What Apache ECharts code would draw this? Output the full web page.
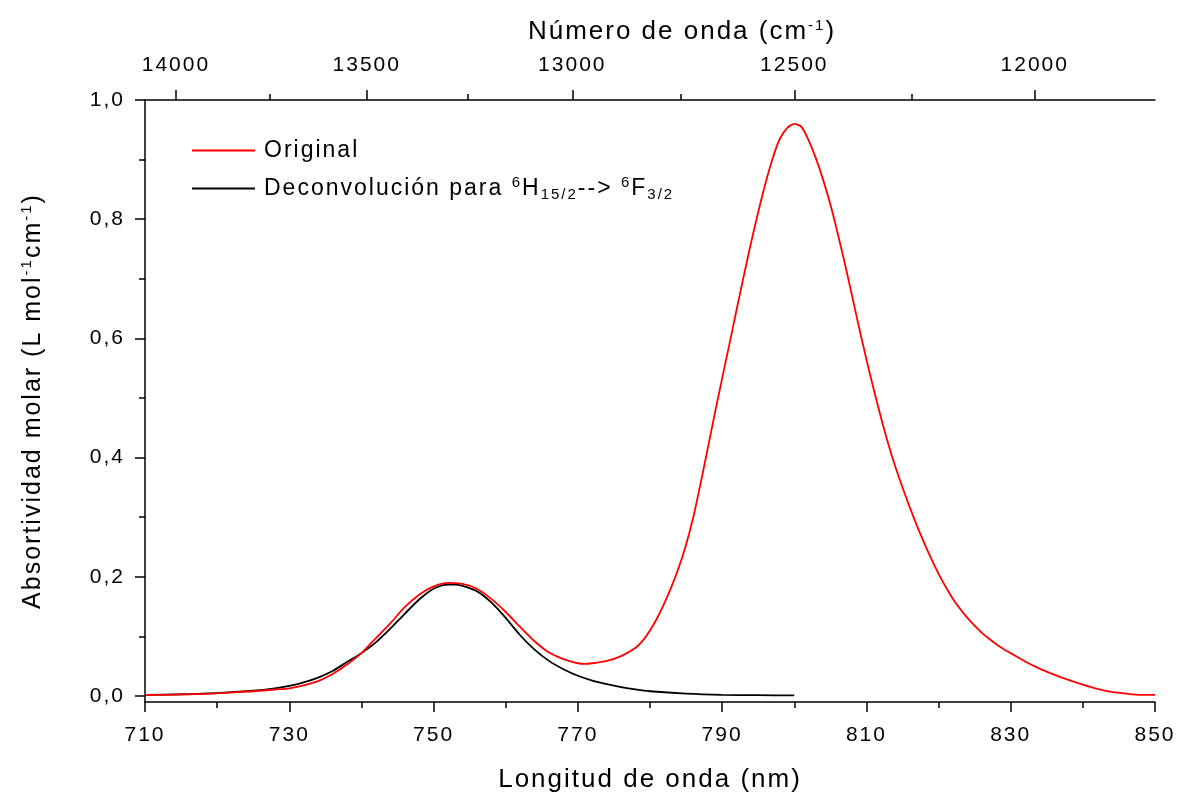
<!DOCTYPE html>
<html>
<head>
<meta charset="utf-8">
<script src="https://cdn.jsdelivr.net/npm/echarts@6/dist/echarts.min.js"></script>
<style>
  html, body { margin: 0; padding: 0; background: #ffffff; }
  #chart { width: 1178px; height: 794px; }
</style>
</head>
<body>
<div id="chart"></div>
<script>
// Slightly tracked-out lettering for every 2D canvas context (drawing and text measuring alike)
(function () {
  const origGetContext = HTMLCanvasElement.prototype.getContext;
  HTMLCanvasElement.prototype.getContext = function (type, opts) {
    const ctx = origGetContext.call(this, type, opts);
    if (ctx && type === '2d' && 'letterSpacing' in ctx) {
      ctx.letterSpacing = '2px';
    }
    return ctx;
  };
})();

// Measured absorption spectrum (wavelength in nm, molar absorptivity)
const originalNm = [710, 713, 716, 719, 722, 725, 728, 730, 732, 734, 736, 738, 740, 742, 744, 746, 748, 750, 752, 754, 756, 758, 760, 762, 764, 766, 768, 769, 770, 771, 772, 774, 776, 778, 779, 780, 781, 782, 783, 784, 785, 786, 787, 788, 789, 790, 791, 792, 793, 794, 795, 796, 797, 798, 799, 800, 801, 802, 803, 804, 805, 806, 807, 808, 809, 810, 811, 812, 813, 814, 815, 816, 817, 818, 819, 820, 821, 822, 823, 824, 825, 826, 827, 828, 829, 830, 832, 834, 836, 838, 840, 842, 844, 846, 848, 850];
const originalAbs = [0.002, 0.002, 0.003, 0.004, 0.006, 0.008, 0.011, 0.013, 0.018, 0.025, 0.037, 0.053, 0.072, 0.097, 0.122, 0.149, 0.170, 0.184, 0.190, 0.188, 0.180, 0.163, 0.141, 0.116, 0.092, 0.073, 0.062, 0.058, 0.055, 0.054, 0.055, 0.059, 0.067, 0.081, 0.093, 0.110, 0.131, 0.156, 0.184, 0.216, 0.254, 0.300, 0.356, 0.415, 0.475, 0.533, 0.590, 0.648, 0.705, 0.760, 0.812, 0.860, 0.902, 0.935, 0.953, 0.960, 0.955, 0.932, 0.902, 0.866, 0.825, 0.777, 0.726, 0.672, 0.617, 0.565, 0.515, 0.468, 0.424, 0.385, 0.350, 0.317, 0.286, 0.257, 0.230, 0.205, 0.183, 0.163, 0.146, 0.131, 0.118, 0.106, 0.096, 0.087, 0.079, 0.072, 0.058, 0.046, 0.036, 0.027, 0.019, 0.012, 0.007, 0.004, 0.002, 0.002];

// Fitted band for the 6H15/2 -> 6F3/2 transition
const deconvNm = [710, 715, 720, 725, 728, 730, 732, 734, 736, 738, 740, 742, 744, 746, 748, 750, 752, 753, 754, 756, 758, 760, 762, 764, 766, 768, 770, 772, 774, 776, 778, 780, 785, 790, 795, 800];
const deconvAbs = [0.002, 0.003, 0.005, 0.009, 0.013, 0.017, 0.023, 0.031, 0.042, 0.057, 0.072, 0.090, 0.113, 0.138, 0.162, 0.180, 0.187, 0.187, 0.185, 0.176, 0.157, 0.131, 0.102, 0.078, 0.059, 0.045, 0.034, 0.026, 0.020, 0.015, 0.011, 0.008, 0.004, 0.002, 0.0015, 0.001];

// Axis tick definitions
const yMajorTicks = [0, 0.2, 0.4, 0.6, 0.8, 1.0];
const yMinorTicks = [0.1, 0.3, 0.5, 0.7, 0.9];
const waveNumberMajor = [14000, 13500, 13000, 12500, 12000];
const waveNumberMinor = [13750, 13250, 12750, 12250];

const seriesOriginal = 'Original';
const seriesDeconv = 'Deconvolución para 6H15/2--> 6F3/2';

const pair = (xs, ys) => xs.map((x, i) => [x, ys[i]]);
const toNm = wn => 1e7 / wn;

const FONT = '"Liberation Sans", Arial, sans-serif';
const supSub = (size) => ({
  sup: { fontSize: size, lineHeight: size, verticalAlign: 'top', fontFamily: FONT, color: '#000' },
  sub: { fontSize: size, lineHeight: size, verticalAlign: 'bottom', fontFamily: FONT, color: '#000' }
});

const chart = echarts.init(document.getElementById('chart'), null, { renderer: 'canvas' });

const axisLineStyle = { color: '#000', width: 1.5 };
const tickStyle = { color: '#000', width: 1.5 };

chart.setOption({
  animation: false,
  backgroundColor: '#ffffff',
  grid: { left: 145, right: 23, top: 100, bottom: 92, show: false, containLabel: false, outerBoundsMode: 'none' },
  legend: {
    orient: 'vertical',
    left: 192,
    top: 136,
    padding: 0,
    itemWidth: 63,
    itemHeight: 2,
    itemGap: 9,
    icon: 'rect',
    data: [seriesOriginal, seriesDeconv],
    formatter: name => name === seriesDeconv
      ? 'Deconvolución para {sup|6}H{sub|15/2}--> {sup|6}F{sub|3/2}'
      : name,
    textStyle: {
      fontFamily: FONT, fontSize: 23, color: '#000', lineHeight: 29,
      padding: [0, 0, 0, 4],
      rich: supSub(15)
    }
  },
  xAxis: [
    {
      type: 'value', position: 'bottom', min: 710, max: 850, interval: 20,
      name: 'Longitud de onda (nm)', nameLocation: 'middle', nameGap: 64,
      nameTextStyle: { fontFamily: FONT, fontSize: 26, color: '#000' },
      axisLine: { show: true, onZero: false, lineStyle: axisLineStyle },
      axisTick: { show: true, length: 10, lineStyle: tickStyle },
      minorTick: { show: true, splitNumber: 2, length: 6, lineStyle: tickStyle },
      axisLabel: { fontFamily: FONT, fontSize: 21, color: '#000', margin: 22 },
      splitLine: { show: false }, minorSplitLine: { show: false }
    },
    {
      type: 'value', position: 'top', min: 710, max: 850,
      name: 'Número de onda (cm{sup|-1})', nameLocation: 'middle', nameGap: 53,
      nameTextStyle: {
        fontFamily: FONT, fontSize: 26, color: '#000', lineHeight: 30,
        padding: [0, 0, 0, 64], rich: supSub(15)
      },
      axisLine: { show: true, onZero: false, lineStyle: axisLineStyle },
      axisTick: { show: true, length: 10, customValues: waveNumberMajor.map(toNm), lineStyle: tickStyle },
      axisLabel: {
        fontFamily: FONT, fontSize: 21, color: '#000', margin: 23,
        customValues: waveNumberMajor.map(toNm),
        formatter: v => String(Math.round(1e7 / v))
      },
      splitLine: { show: false }
    },
    {
      type: 'value', position: 'top', min: 710, max: 850,
      axisLine: { show: false, onZero: false },
      axisTick: { show: true, length: 6, customValues: waveNumberMinor.map(toNm), lineStyle: tickStyle },
      axisLabel: { show: false },
      splitLine: { show: false }
    }
  ],
  yAxis: [
    {
      type: 'value', position: 'left', min: -0.01, max: 1.0,
      name: 'Absortividad molar (L mol{sup|-1}cm{sup|-1})', nameLocation: 'middle', nameGap: 97,
      nameTextStyle: { fontFamily: FONT, fontSize: 25, color: '#000', lineHeight: 30, rich: supSub(15) },
      axisLine: { show: true, onZero: false, lineStyle: axisLineStyle },
      axisTick: { show: true, length: 10, customValues: yMajorTicks, lineStyle: tickStyle },
      axisLabel: {
        fontFamily: FONT, fontSize: 21, color: '#000', margin: 20,
        customValues: yMajorTicks,
        formatter: v => v.toFixed(1).replace('.', ',')
      },
      splitLine: { show: false }
    },
    {
      type: 'value', position: 'left', min: -0.01, max: 1.0,
      axisLine: { show: false, onZero: false },
      axisTick: { show: true, length: 6, customValues: yMinorTicks, lineStyle: tickStyle },
      axisLabel: { show: false },
      splitLine: { show: false }
    }
  ],
  series: [
    {
      name: seriesDeconv, type: 'line', xAxisIndex: 0, yAxisIndex: 0,
      data: pair(deconvNm, deconvAbs), showSymbol: false, smooth: 0.25,
      lineStyle: { color: '#000000', width: 1.8 }, itemStyle: { color: '#000000' }
    },
    {
      name: seriesOriginal, type: 'line', xAxisIndex: 0, yAxisIndex: 0,
      data: pair(originalNm, originalAbs), showSymbol: false, smooth: 0.25,
      lineStyle: { color: '#ff0000', width: 1.8 }, itemStyle: { color: '#ff0000' }
    }
  ]
});
</script>
</body>
</html>
